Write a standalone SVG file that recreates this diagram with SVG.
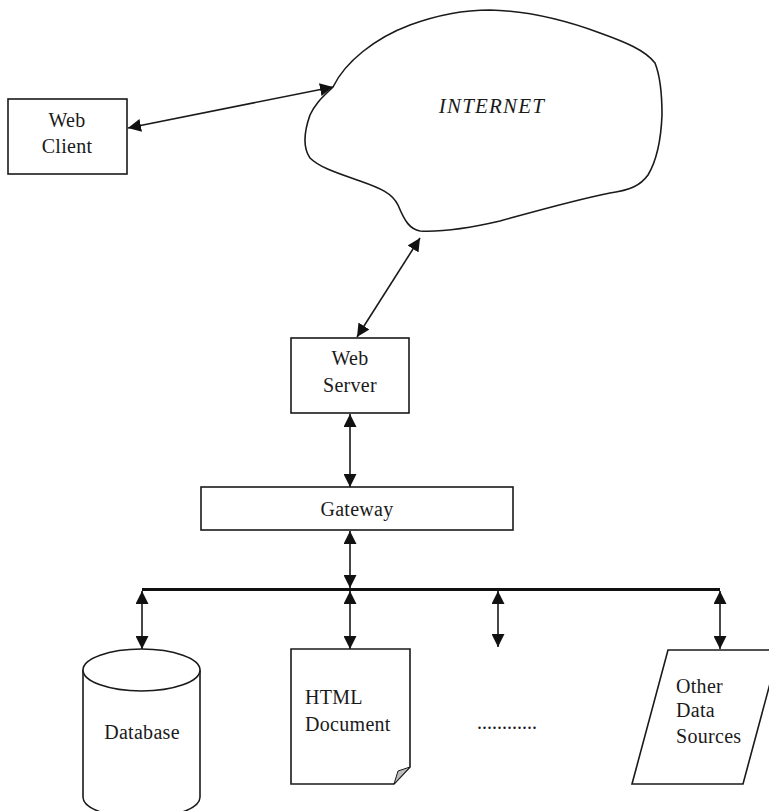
<svg xmlns="http://www.w3.org/2000/svg" width="769" height="811" viewBox="0 0 769 811">
<style>
.shape{fill:#fff;stroke:#1a1a1a;stroke-width:1.6}
.t{font-family:"Liberation Serif","Times New Roman",serif;font-size:20px;fill:#1a1a1a;letter-spacing:0.3px}
.c{text-anchor:middle}
.conn{stroke:#1a1a1a;stroke-width:1.6;fill:none;marker-start:url(#ah);marker-end:url(#ah)}
</style>
<defs>
<marker id="ah" viewBox="0 0 12 12" markerWidth="13" markerHeight="13" refX="12" refY="6" orient="auto-start-reverse" markerUnits="userSpaceOnUse">
<path d="M0,0 L12,6 L0,12 z" fill="#111"/>
</marker>
</defs>
<rect width="769" height="811" fill="#fff"/>

<g id="internet">
<path class="shape" d="M333,87 C345,62 375,38 410,25 C440,14 465,10 490,10 C530,11 565,20 600,33 C625,42 645,50 655,63 C661,78 662,95 662,115 C661,140 657,160 648,175 C640,186 630,190 610,193 C575,200 540,210 500,221 C470,228 440,232 420,231 C410,229 405,222 398,205 C392,193 380,188 360,181 C340,174 320,168 310,158 C303,148 304,132 310,115 C316,102 324,96 333,87 Z"/>
<text class="t c" x="492" y="113" style="font-style:italic;font-size:21px;letter-spacing:1.2px">INTERNET</text>
</g>

<g id="web-client">
<rect class="shape" x="8" y="99" width="119" height="75"/>
<text class="t c" x="67" y="127">Web</text>
<text class="t c" x="67" y="153">Client</text>
</g>

<g id="web-server">
<rect class="shape" x="291" y="338" width="118" height="75"/>
<text class="t c" x="350" y="365">Web</text>
<text class="t c" x="350" y="392">Server</text>
</g>

<g id="gateway">
<rect class="shape" x="201" y="487" width="312" height="43"/>
<text class="t c" x="357" y="516">Gateway</text>
</g>

<g id="database">
<path class="shape" d="M83,670 V797 A58.5,21 0 0 0 200,797 V670"/>
<ellipse class="shape" cx="141.5" cy="670" rx="58.5" ry="21"/>
<text class="t c" x="142" y="739">Database</text>
</g>

<g id="html-document">
<path class="shape" d="M291,649 H410 V767 L394,784 H291 Z"/>
<path d="M410,767 L394,784 L398,771 Z" fill="#bdbdbd" stroke="#1a1a1a" stroke-width="1"/>
<text class="t" x="305" y="704">HTML</text>
<text class="t" x="305" y="731">Document</text>
</g>

<g id="ellipsis">
<text class="t" x="477" y="729" style="letter-spacing:0">............</text>
</g>

<g id="other-data-sources">
<path class="shape" d="M668,650 H779 L743,784 H632 Z"/>
<text class="t" x="676" y="693">Other</text>
<text class="t" x="676" y="717">Data</text>
<text class="t" x="676" y="743">Sources</text>
</g>

<g id="connectors">
<line class="conn" x1="128" y1="128" x2="333" y2="87"/>
<line class="conn" x1="420" y1="238" x2="357" y2="337"/>
<line class="conn" x1="350" y1="414" x2="350" y2="487"/>
<line class="conn" x1="350" y1="531" x2="350" y2="588"/>
<line x1="142" y1="589.5" x2="720" y2="589.5" stroke="#111" stroke-width="3"/>
<line class="conn" x1="142" y1="591" x2="142" y2="649"/>
<line class="conn" x1="350" y1="591" x2="350" y2="649"/>
<line class="conn" x1="498" y1="591" x2="498" y2="647"/>
<line class="conn" x1="720" y1="591" x2="720" y2="649"/>
</g>
</svg>
